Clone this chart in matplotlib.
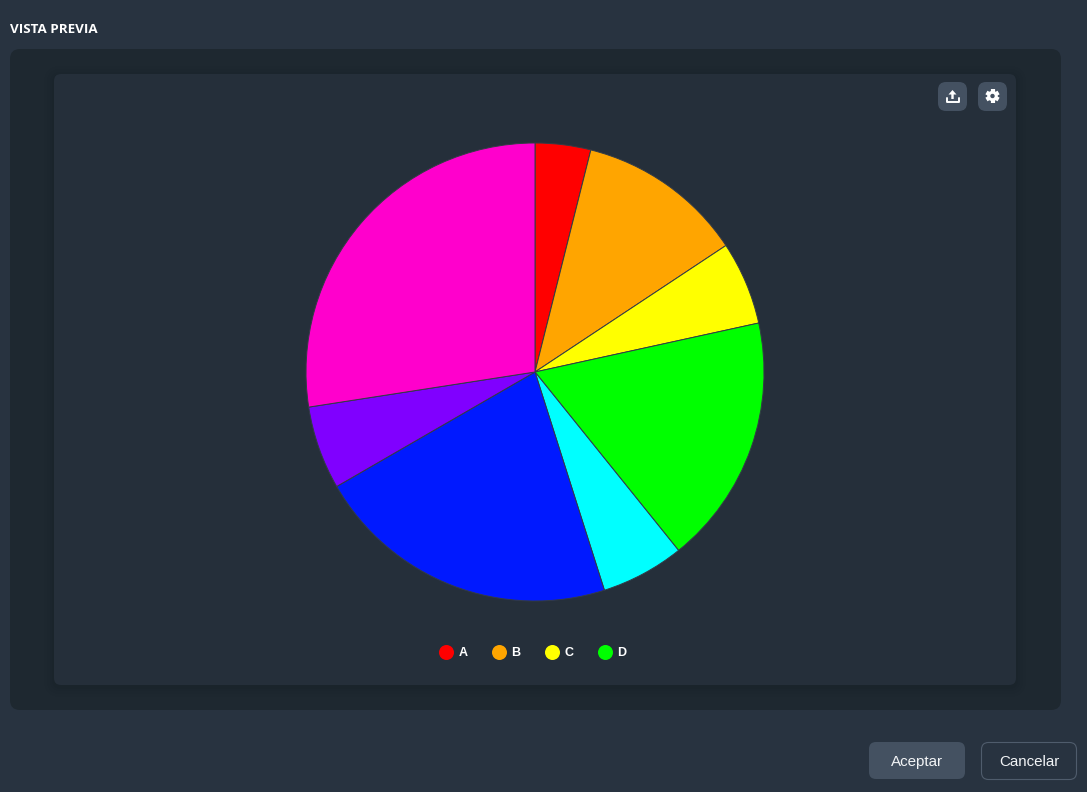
import matplotlib
matplotlib.use("Agg")
import matplotlib.pyplot as plt
import numpy as np
from matplotlib.patches import FancyBboxPatch, Circle, Polygon

categories = ["A", "B", "C", "D", "E", "F", "G", "H"]
values = [4, 12, 6, 18, 6, 22, 6, 28]
colors = ["#ff0000", "#ffa500", "#ffff00", "#00ff00", "#00ffff", "#0019ff", "#8000ff", "#ff00cc"]
legend_shown = 4

W, H = 1087, 792
PAGE, PANEL, CARD, BTN = "#283340", "#1e2830", "#252f3a", "#445161"
plt.rcParams["font.family"] = ["Liberation Sans", "DejaVu Sans"]

fig = plt.figure(figsize=(W / 100, H / 100), dpi=100, facecolor=PAGE)
bg = fig.add_axes([0, 0, 1, 1])
bg.set_xlim(0, W)
bg.set_ylim(H, 0)
bg.axis("off")


def rbox(x0, y0, x1, y1, r, fc, ec="none", lw=0, alpha=1.0, z=1):
    bg.add_patch(FancyBboxPatch((x0 + r, y0 + r), x1 - x0 - 2 * r, y1 - y0 - 2 * r,
                                boxstyle=f"round,pad={r},rounding_size={r}",
                                fc=fc, ec=ec, lw=lw, alpha=alpha, zorder=z))


rbox(10, 49, 1061, 710, 10, PANEL)
for i, a in zip((10, 7, 4, 2), (.05, .07, .09, .11)):
    rbox(54 - i, 74 - i + 2, 1016 + i, 685 + i + 2, 8 + i, "#151c23", alpha=a, z=2)
rbox(54, 74, 1016, 685, 7, CARD, z=3)

# toolbar buttons
rbox(938, 82, 967, 111, 8, BTN, z=4)
rbox(978, 82, 1007, 111, 8, BTN, z=4)
bg.add_patch(Polygon([(952.5, 90), (956.5, 94.5), (953.7, 94.5), (953.7, 99), (951.3, 99), (951.3, 94.5), (948.5, 94.5)],
                     closed=True, fc="white", ec="none", zorder=5))
bg.plot([946.5, 946.5, 958.5, 958.5], [98, 101.5, 101.5, 98], color="white", lw=1.4, zorder=5,
        solid_capstyle="round", solid_joinstyle="round")
bg.add_patch(Circle((992.5, 96), 5.2, fc="white", ec="none", zorder=5))
for ang in np.arange(0, 360, 60) + 30:
    t = np.deg2rad(ang)
    bg.plot([992.5, 992.5 + 7 * np.cos(t)], [96, 96 + 7 * np.sin(t)], color="white", lw=3,
            solid_capstyle="butt", zorder=5)
bg.add_patch(Circle((992.5, 96), 2.2, fc=BTN, ec="none", zorder=6))

# footer buttons
rbox(869, 742, 965, 779, 7, BTN)
rbox(981.5, 742.5, 1076.5, 779.5, 7, PAGE, ec="#4f5c6c", lw=0.8)
bg.text(917, 762, "Aceptar", color="#f2f4f6", fontsize=10.9, ha="center", va="center", family="Liberation Sans")
bg.text(1029, 762, "Cancelar", color="#f2f4f6", fontsize=10.9, ha="center", va="center", family="Liberation Sans")
bg.text(10, 29.5, "VISTA PREVIA", color="#ffffff", fontsize=9.6, fontweight="bold", ha="left", va="center",
        family="Open Sans")

# pie
cx, cy, r = 535, 372, 229
ax = fig.add_axes([(cx - r) / W, 1 - (cy + r) / H, 2 * r / W, 2 * r / H])
ax.set_zorder(5)
ax.pie(values, colors=colors, startangle=90, counterclock=False, radius=1,
       wedgeprops=dict(edgecolor="#333b46", linewidth=0.7))
ax.set_xlim(-1, 1)
ax.set_ylim(-1, 1)
ax.axis("off")

# legend
for i in range(legend_shown):
    x = 446.5 + i * 53
    bg.add_patch(Circle((x, 652.5), 7.5, fc=colors[i], ec="none", zorder=6))
    bg.text(x + 12, 653, categories[i], color="#ffffff", fontsize=9, fontweight="bold",
            ha="left", va="center", zorder=6)

fig.savefig("out.png", dpi=100, facecolor=PAGE)
